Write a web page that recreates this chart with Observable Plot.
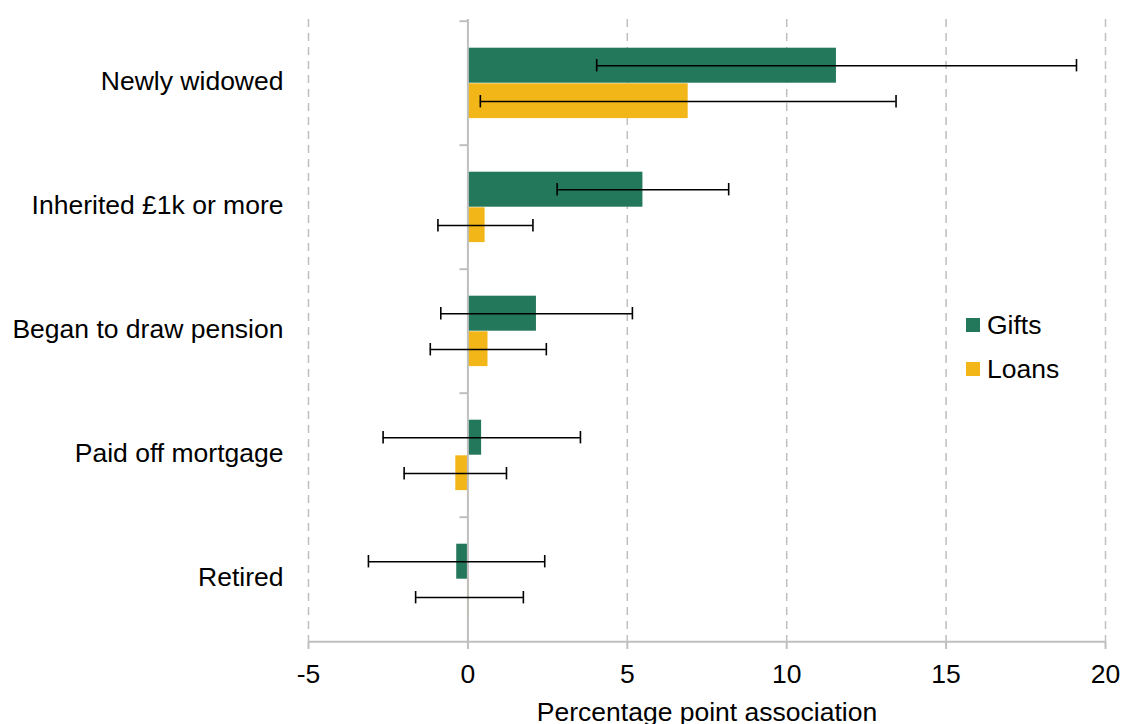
<!DOCTYPE html>
<html>
<head>
<meta charset="utf-8">
<script src="https://cdn.jsdelivr.net/npm/d3@7"></script>
<script src="https://cdn.jsdelivr.net/npm/@observablehq/plot@0.6"></script>
<style>
  html, body { margin: 0; padding: 0; background: #fff; overflow: hidden; }
  #wrap { position: relative; width: 1122px; height: 724px; font-family: "Liberation Sans", Arial, sans-serif; }
  #legend { position: absolute; left: 966px; top: 308px; font-size: 26.5px; color: #000; }
  .row { display: flex; align-items: center; height: 34px; margin-bottom: 10px; }
  .sw { width: 14px; height: 14px; margin-right: 7px; }
</style>
</head>
<body>
<div id="wrap"><div id="legend"></div></div>
<script>
const categories = ["Newly widowed", "Inherited £1k or more", "Began to draw pension", "Paid off mortgage", "Retired"];
const seriesNames = ["Gifts", "Loans"];
const seriesColors = ["#23775a", "#f2b619"];
const gifts     = [11.56, 5.49, 2.15, 0.43, -0.35];
const giftsLow  = [4.04, 2.80, -0.85, -2.66, -3.12];
const giftsHigh = [19.09, 8.18, 5.16, 3.53, 2.41];
const loans     = [6.91, 0.54, 0.63, -0.38, 0.04];
const loansLow  = [0.39, -0.94, -1.18, -2.00, -1.64];
const loansHigh = [13.43, 2.04, 2.46, 1.21, 1.74];
const xTicks = [-5, 0, 5, 10, 15, 20];
const gridTicks = [-5, 5, 10, 15, 20];
const xLabel = "Percentage point association";

const data = categories.map((c, i) => ({
  category: c,
  gifts: gifts[i], giftsLow: giftsLow[i], giftsHigh: giftsHigh[i],
  loans: loans[i], loansLow: loansLow[i], loansHigh: loansHigh[i]
}));

const grey = "#bfbfbf";
const band = (724 - 19 - 82) / categories.length; // ~124.6
const half = band / 2;

const chart = Plot.plot({
  width: 1122,
  height: 724,
  marginLeft: 308,
  marginRight: 17,
  marginTop: 19,
  marginBottom: 82,
  style: { fontFamily: "Liberation Sans, Arial, sans-serif", fontSize: "26.5px", color: "#000", background: "transparent", overflow: "visible" },
  x: { domain: [xTicks[0], xTicks[xTicks.length - 1]] },
  y: { domain: categories, padding: 0, label: null },
  marks: [
    Plot.ruleX(gridTicks, { stroke: grey, strokeWidth: 1.5, strokeDasharray: "8,6" }),
    Plot.barX(data, { x: "gifts", y: "category", fill: seriesColors[0], insetTop: 26.7, insetBottom: band - 62.3 }),
    Plot.barX(data, { x: "loans", y: "category", fill: seriesColors[1], insetTop: 62.3, insetBottom: band - 97.7 }),
    Plot.ruleX([0], { stroke: grey, strokeWidth: 2 }),
    Plot.ruleY(categories, { y: d => d, x1: 0, x2: 0, insetLeft: -8, dy: -half, stroke: grey, strokeWidth: 2 }),
    Plot.ruleY([categories[categories.length - 1]], { y: d => d, x1: xTicks[0], x2: xTicks[xTicks.length - 1], dy: half, stroke: grey, strokeWidth: 2 }),
    Plot.ruleY(data, { y: "category", x1: "giftsLow", x2: "giftsHigh", dy: 44.5 - half, stroke: "#000", strokeWidth: 1.5 }),
    Plot.tickX(data, { x: "giftsLow", y: "category", insetTop: 38, insetBottom: band - 51, stroke: "#000", strokeWidth: 1.6 }),
    Plot.tickX(data, { x: "giftsHigh", y: "category", insetTop: 38, insetBottom: band - 51, stroke: "#000", strokeWidth: 1.6 }),
    Plot.ruleY(data, { y: "category", x1: "loansLow", x2: "loansHigh", dy: 80.3 - half, stroke: "#000", strokeWidth: 1.5 }),
    Plot.tickX(data, { x: "loansLow", y: "category", insetTop: 74, insetBottom: band - 87, stroke: "#000", strokeWidth: 1.6 }),
    Plot.tickX(data, { x: "loansHigh", y: "category", insetTop: 74, insetBottom: band - 87, stroke: "#000", strokeWidth: 1.6 }),
    Plot.axisX({ ticks: xTicks, tickFormat: d => String(d), tickSize: 7, tickPadding: 15, stroke: grey, strokeWidth: 2, fill: "#000", fontSize: 26.5,
                 label: xLabel, labelAnchor: "center", labelArrow: "none", labelOffset: 78 }),
    Plot.axisY({ tickSize: 0, tickPadding: 25, fill: "#000", fontSize: 26.5, label: null, dy: -2 })
  ]
});

const wrap = document.getElementById("wrap");
wrap.insertBefore(chart, wrap.firstChild);

const legend = document.getElementById("legend");
seriesNames.forEach((name, i) => {
  const row = document.createElement("div");
  row.className = "row";
  const sw = document.createElement("div");
  sw.className = "sw";
  sw.style.background = seriesColors[i];
  const t = document.createElement("span");
  t.textContent = name;
  row.appendChild(sw);
  row.appendChild(t);
  legend.appendChild(row);
});
</script>
</body>
</html>
